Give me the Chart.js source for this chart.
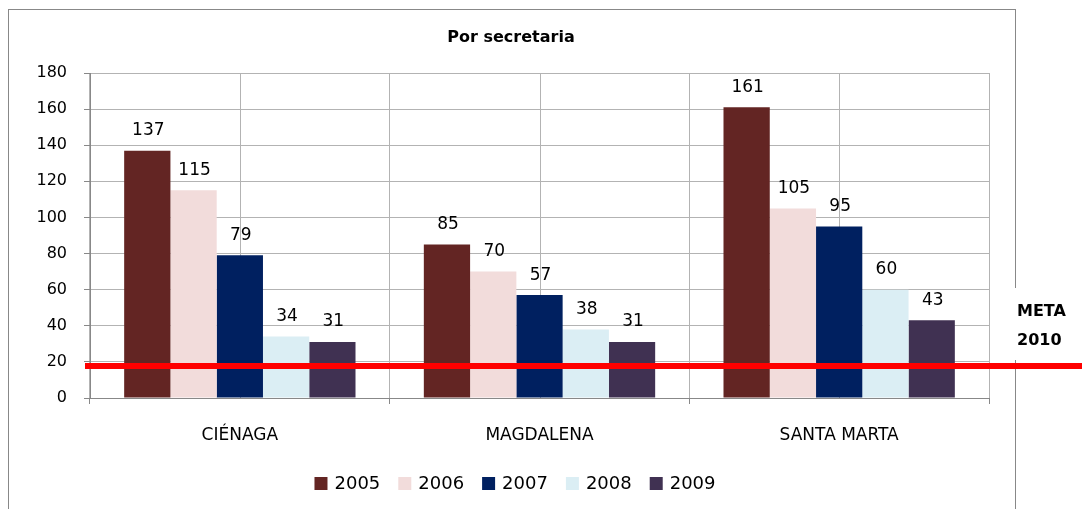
<!DOCTYPE html>
<html>
<head>
<meta charset="utf-8">
<title>Por secretaria</title>
<script src="https://cdn.jsdelivr.net/npm/chart.js@4.4.1/dist/chart.umd.min.js"></script>
<style>
    html, body { margin: 0; padding: 0; background: #ffffff; }
    #chart { display: block; }
</style>
</head>
<body>
<canvas id="chart" width="1082" height="509"></canvas>
<script>
// Data
const categories = ['CIÉNAGA', 'MAGDALENA', 'SANTA MARTA'];
const years = ['2005', '2006', '2007', '2008', '2009'];
const values2005 = [137, 85, 161];
const values2006 = [115, 70, 105];
const values2007 = [79, 57, 95];
const values2008 = [34, 38, 60];
const values2009 = [31, 31, 43];
const yearColors = ['#632523', '#f2dcdb', '#002060', '#dbeef4', '#403152'];
const yTicks = [0, 20, 40, 60, 80, 100, 120, 140, 160, 180];
const metaValue = 18;
const metaLabel = ['META', '2010'];
const chartTitle = 'Por secretaria';

const FONT = "'DejaVu Sans', sans-serif";
const GRID = '#b3b3b3';

const seriesValues = [values2005, values2006, values2007, values2008, values2009];

// Frame, centre gridlines, labels, legend and target line
const decorations = {
    id: 'decorations',
    beforeDraw(chart) {
        const ctx = chart.ctx;
        ctx.save();
        ctx.fillStyle = '#ffffff';
        ctx.fillRect(0, 0, chart.width, chart.height);
        ctx.strokeStyle = '#888888';
        ctx.lineWidth = 1;
        ctx.strokeRect(8.5, 9.5, 1007, 600);
        ctx.restore();
    },
    beforeDatasetsDraw(chart) {
        // extra vertical gridlines through each category centre
        const ctx = chart.ctx;
        const x = chart.scales.x;
        const area = chart.chartArea;
        ctx.save();
        ctx.strokeStyle = GRID;
        ctx.lineWidth = 1;
        categories.forEach((c, i) => {
            const px = Math.round(x.getPixelForValue(i)) + 0.5;
            ctx.beginPath();
            ctx.moveTo(px, area.top);
            ctx.lineTo(px, area.bottom);
            ctx.stroke();
        });
        ctx.restore();
    },
    afterDatasetsDraw(chart) {
        const ctx = chart.ctx;
        ctx.save();
        ctx.fillStyle = '#000000';
        ctx.font = '17px ' + FONT;
        ctx.textAlign = 'center';
        ctx.textBaseline = 'middle';
        chart.data.datasets.forEach((ds, di) => {
            chart.getDatasetMeta(di).data.forEach((bar, i) => {
                ctx.fillText(String(ds.data[i]), bar.x + 1, bar.y - 20);
            });
        });
        ctx.restore();
    },
    afterDraw(chart) {
        const ctx = chart.ctx;
        ctx.save();

        // title
        ctx.fillStyle = '#000000';
        ctx.font = 'bold 16px ' + FONT;
        ctx.textAlign = 'center';
        ctx.textBaseline = 'middle';
        ctx.fillText(chartTitle, 511, 38);

        // legend
        ctx.font = '18px ' + FONT;
        ctx.textAlign = 'left';
        const box = 13, gap = 7, spacing = 18;
        const widths = years.map(t => ctx.measureText(t).width);
        const total = widths.reduce((a, w) => a + box + gap + w, 0) + spacing * (years.length - 1);
        let lx = 515 - total / 2;
        years.forEach((t, i) => {
            ctx.fillStyle = yearColors[i];
            ctx.fillRect(lx, 477, box, box);
            ctx.fillStyle = '#000000';
            ctx.fillText(t, lx + box + gap, 484);
            lx += box + gap + widths[i] + spacing;
        });

        // target line
        const y = Math.round(chart.scales.y.getPixelForValue(metaValue));
        ctx.strokeStyle = '#ff0000';
        ctx.lineWidth = 6;
        ctx.beginPath();
        ctx.moveTo(85, y);
        ctx.lineTo(chart.width, y);
        ctx.stroke();

        // target label
        ctx.fillStyle = '#ffffff';
        ctx.fillRect(1011, 288, 66, 72);
        ctx.fillStyle = '#000000';
        ctx.font = 'bold 16px ' + FONT;
        ctx.fillText(metaLabel[0], 1017, 312);
        ctx.fillText(metaLabel[1], 1017, 341);
        ctx.restore();
    }
};

new Chart(document.getElementById('chart'), {
    type: 'bar',
    data: {
        labels: categories,
        datasets: years.map((year, i) => ({
            label: year,
            data: seriesValues[i],
            backgroundColor: yearColors[i],
            borderWidth: 0,
            barPercentage: 1,
            categoryPercentage: 0.772
        }))
    },
    options: {
        responsive: false,
        devicePixelRatio: 1,
        animation: false,
        layout: {
            padding: { left: 0, right: 93, top: 73, bottom: 0 }
        },
        plugins: {
            legend: { display: false },
            title: { display: false },
            tooltip: { enabled: false }
        },
        scales: {
            x: {
                grid: {
                    offset: true,
                    color: GRID,
                    tickColor: '#888888',
                    tickLength: 6
                },
                border: { color: '#888888' },
                ticks: {
                    color: '#000000',
                    font: { family: FONT, size: 17 },
                    padding: 21
                },
                afterFit(scale) { scale.height = 111; }
            },
            y: {
                min: 0,
                max: 180,
                afterBuildTicks(scale) {
                    scale.ticks = yTicks.map(v => ({ value: v }));
                },
                grid: {
                    color: GRID,
                    tickColor: '#888888',
                    tickLength: 6
                },
                border: { color: '#888888' },
                ticks: {
                    color: '#000000',
                    font: { family: FONT, size: 16 },
                    padding: 17
                },
                afterFit(scale) { scale.width = 90; }
            }
        }
    },
    plugins: [decorations]
});
</script>
</body>
</html>
